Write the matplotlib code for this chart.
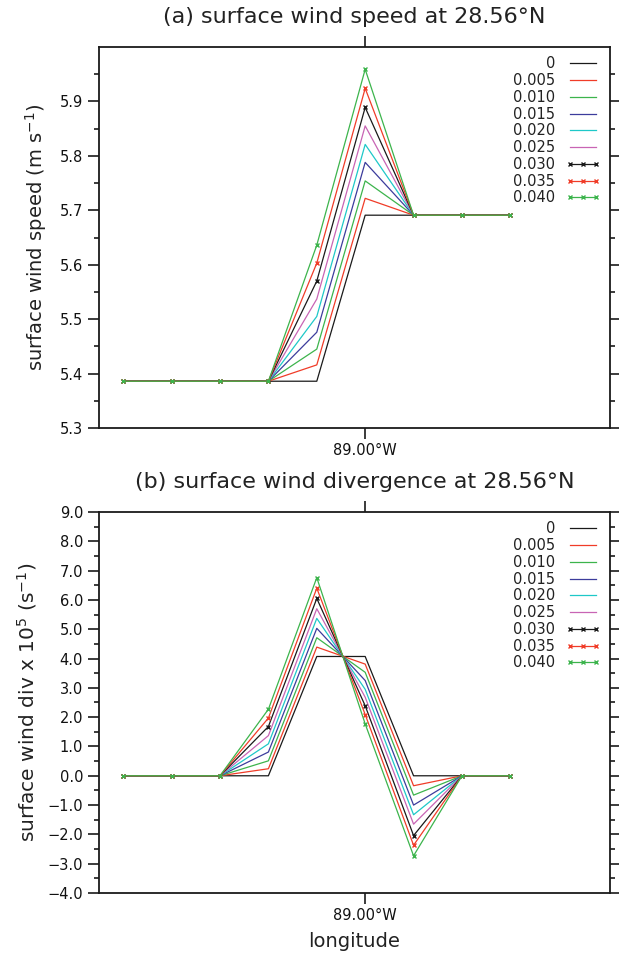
#!/usr/bin/env python3
"""Surface wind speed and divergence across 89W for a set of drag parameters."""
import matplotlib
matplotlib.use("Agg")
import matplotlib.pyplot as plt
from matplotlib.ticker import MultipleLocator, FixedLocator, FuncFormatter

plt.rcParams["font.family"] = ["DejaVu Sans"]

# longitude of the grid points (degrees east)
lon = [-89.25, -89.20, -89.15, -89.10, -89.05, -89.00, -88.95, -88.90, -88.85]

labels = ["0", "0.005", "0.010", "0.015", "0.020", "0.025", "0.030", "0.035", "0.040"]
colors = ["#1a1a1a", "#f03c28", "#3cb44c", "#3c3c9c", "#1ec8c8",
          "#c864b4", "#1a1a1a", "#f03c28", "#3cb44c"]
markers = [None, None, None, None, None, None, "x", "x", "x"]

# surface wind speed (m/s), one row per parameter value
speed_rows = [
    [5.386, 5.386, 5.386, 5.386, 5.386, 5.691, 5.691, 5.691, 5.691],
    [5.386, 5.386, 5.386, 5.386, 5.416, 5.722, 5.691, 5.691, 5.691],
    [5.386, 5.386, 5.386, 5.386, 5.445, 5.754, 5.691, 5.691, 5.691],
    [5.386, 5.386, 5.386, 5.386, 5.476, 5.788, 5.691, 5.691, 5.691],
    [5.386, 5.386, 5.386, 5.386, 5.505, 5.821, 5.691, 5.691, 5.691],
    [5.386, 5.386, 5.386, 5.386, 5.537, 5.855, 5.691, 5.691, 5.691],
    [5.386, 5.386, 5.386, 5.386, 5.570, 5.889, 5.691, 5.691, 5.691],
    [5.386, 5.386, 5.386, 5.386, 5.603, 5.924, 5.691, 5.691, 5.691],
    [5.386, 5.386, 5.386, 5.386, 5.636, 5.959, 5.691, 5.691, 5.691],
]

# surface wind divergence x 1e5 (1/s)
div_rows = [
    [0.0, 0.0, 0.0, 0.00, 4.07, 4.07, 0.00, 0.0, 0.0],
    [0.0, 0.0, 0.0, 0.24, 4.39, 3.81, -0.34, 0.0, 0.0],
    [0.0, 0.0, 0.0, 0.51, 4.71, 3.53, -0.66, 0.0, 0.0],
    [0.0, 0.0, 0.0, 0.81, 5.03, 3.25, -1.00, 0.0, 0.0],
    [0.0, 0.0, 0.0, 1.09, 5.37, 2.95, -1.33, 0.0, 0.0],
    [0.0, 0.0, 0.0, 1.37, 5.70, 2.68, -1.65, 0.0, 0.0],
    [0.0, 0.0, 0.0, 1.68, 6.05, 2.39, -2.04, 0.0, 0.0],
    [0.0, 0.0, 0.0, 1.97, 6.40, 2.09, -2.37, 0.0, 0.0],
    [0.0, 0.0, 0.0, 2.27, 6.76, 1.77, -2.73, 0.0, 0.0],
]

TXT = "#222222"


def lon_label(x, pos=None):
    hemi = "W" if x < 0 else "E"
    return f"{abs(x):.2f}\u00b0{hemi}"


def style_axes(ax):
    for sp in ax.spines.values():
        sp.set_linewidth(1.3)
        sp.set_color("#1a1a1a")
    ax.set_xlim(-89.275, -88.747)
    ax.xaxis.set_major_locator(FixedLocator([-89.0]))
    ax.xaxis.set_major_formatter(FuncFormatter(lon_label))
    ax.tick_params(which="major", direction="out", length=8, width=1.2,
                   labelsize=10.5, colors="#1a1a1a", labelcolor="#111111",
                   left=True, right=True, top=True, bottom=True,
                   labeltop=False, labelright=False)
    ax.tick_params(axis="x", which="major", pad=3)
    ax.tick_params(which="minor", direction="out", length=3.8, width=1.2,
                   left=True, right=True, colors="#1a1a1a")
    ax.tick_params(axis="x", which="minor", bottom=False, top=False)


def draw_series(ax, rows):
    for vals, lab, c, m in zip(rows, labels, colors, markers):
        ax.plot(lon, vals, color=c, lw=0.9, marker=m, ms=3.5, mew=1.0, label=lab)
    ax.legend(loc="upper right", frameon=False, markerfirst=False, numpoints=3,
              fontsize=10.5, labelspacing=0.12, handlelength=2.4,
              handletextpad=0.7, borderaxespad=0.25, labelcolor=TXT)


fig = plt.figure(figsize=(6.19, 9.55), dpi=100)
ax1 = fig.add_axes([0.160, 0.5518, 0.8255, 0.399])
ax2 = fig.add_axes([0.160, 0.0649, 0.8255, 0.399])

# (a) wind speed
draw_series(ax1, speed_rows)
style_axes(ax1)
ax1.set_ylim(5.3, 6.0)
ax1.yaxis.set_major_locator(FixedLocator([5.3, 5.4, 5.5, 5.6, 5.7, 5.8, 5.9]))
ax1.yaxis.set_minor_locator(FixedLocator([5.35, 5.45, 5.55, 5.65, 5.75, 5.85, 5.95]))
ax1.yaxis.set_major_formatter(FuncFormatter(lambda v, p: f"{v:.1f}"))
ax1.set_ylabel("surface wind speed (m s$^{-1}$)", fontsize=14, color=TXT, labelpad=8)
ax1.set_title("(a) surface wind speed at 28.56\u00b0N", fontsize=16, color=TXT, pad=17)

# (b) wind divergence
draw_series(ax2, div_rows)
style_axes(ax2)
ax2.set_ylim(-4.0, 9.0)
ax2.yaxis.set_major_locator(MultipleLocator(1.0))
ax2.yaxis.set_minor_locator(MultipleLocator(0.5))
ax2.yaxis.set_major_formatter(FuncFormatter(lambda v, p: f"{v:.1f}".replace("-", "\u2212")))
ax2.set_ylabel("surface wind div x 10$^{5}$ (s$^{-1}$)", fontsize=14.5, color=TXT, labelpad=6)
ax2.set_title("(b) surface wind divergence at 28.56\u00b0N", fontsize=16, color=TXT, pad=17)
ax2.set_xlabel("longitude", fontsize=14, color=TXT, labelpad=6)

fig.savefig("out.png", dpi=100)
